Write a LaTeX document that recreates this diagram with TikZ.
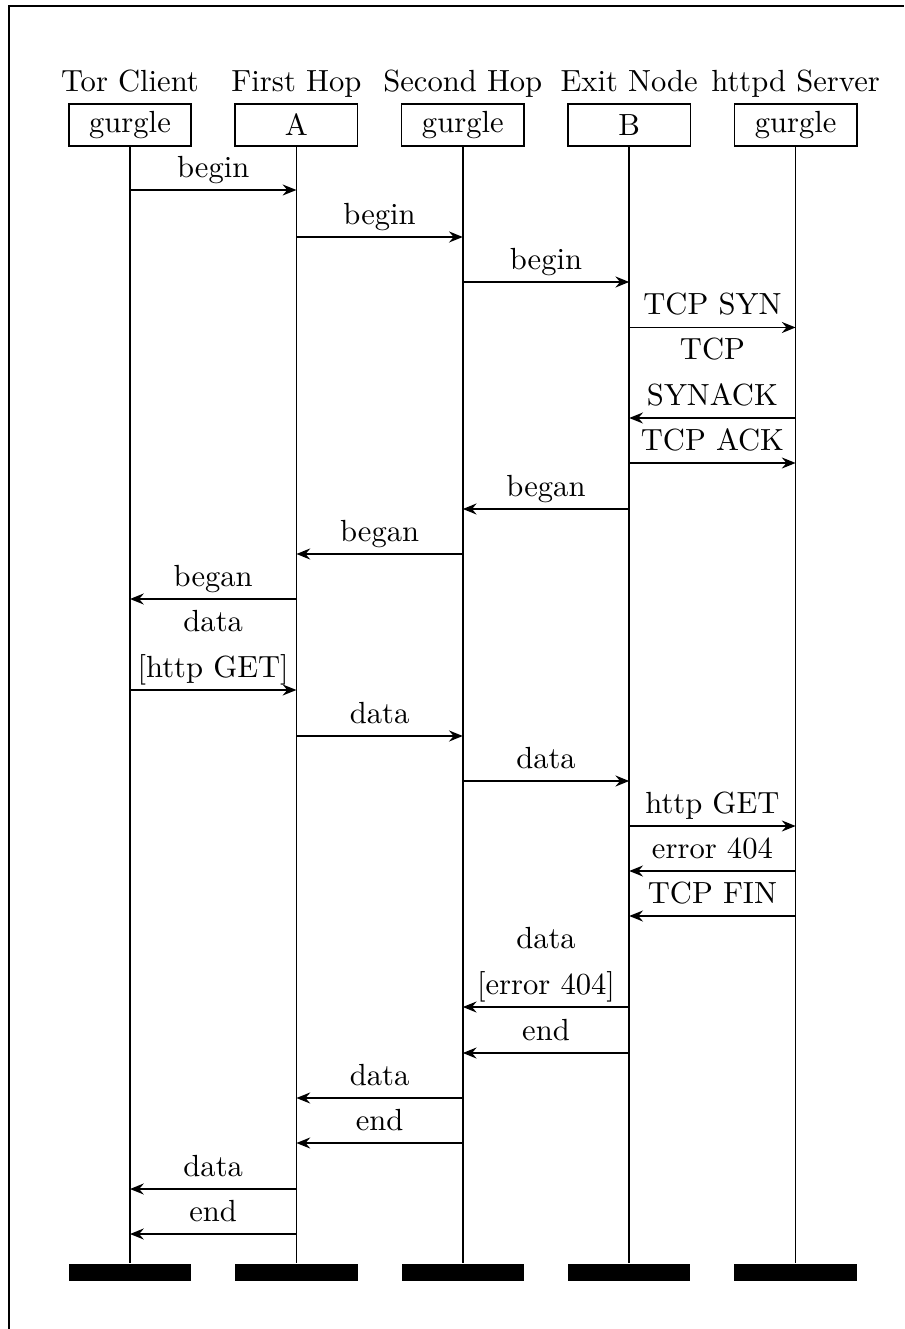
\documentclass[tikz,border=0pt]{standalone}
\usepackage{tikz}
\usetikzlibrary{arrows.meta}

\tikzset{
  inst/.style={draw, minimum width=40pt, minimum height=13.7pt, inner sep=2pt},
  instend/.style={fill=black, minimum width=40pt, minimum height=5.5pt, inner sep=0pt},
  role/.style={anchor=base, inner sep=0pt},
  msg/.style={-{Stealth[length=4.5pt,width=3.6pt,inset=1.5pt]}},
  msglabel/.style={midway, anchor=south, align=center, text depth=0pt, inner ysep=3.9pt}
}

\begin{document}
\begin{tikzpicture}[x=0.327pt,y=-0.327pt,line width=0.55pt]
\useasboundingbox (0,0) rectangle (904,1329);

%Frame
\draw (9,1329) -- (9,6) -- (904,6);

% Text Node
\node [role] at (130,92) {Tor Client};
\node [role] at (296.4,92) {First Hop};
\node [role] at (462.8,92) {Second Hop};
\node [role] at (629.2,92) {Exit Node};
\node [role] at (795.6,92) {httpd Server};

%Instances
\node [inst] (client) at (130,125) {gurgle};
\node [inst] (hopa) at (296.4,125) {A};
\node [inst] (hopb) at (462.8,125) {gurgle};
\node [inst] (exit) at (629.2,125) {B};
\node [inst] (httpd) at (795.6,125) {gurgle};

%Instance ends
\node [instend] (clientend) at (130,1272.5) {};
\node [instend] (hopaend) at (296.4,1272.5) {};
\node [instend] (hopbend) at (462.8,1272.5) {};
\node [instend] (exitend) at (629.2,1272.5) {};
\node [instend] (httpdend) at (795.6,1272.5) {};

%Lifelines
\draw (client) -- (clientend);
\draw (hopa) -- (hopaend);
\draw (hopb) -- (hopbend);
\draw (exit) -- (exitend);
\draw (httpd) -- (httpdend);

%Messages
\draw [msg] (client |- 0,190) -- (hopa |- 0,190) node [msglabel] {begin};
\draw [msg] (hopa |- 0,237) -- (hopb |- 0,237) node [msglabel] {begin};
\draw [msg] (hopb |- 0,282) -- (exit |- 0,282) node [msglabel] {begin};
\draw [msg] (exit |- 0,327.5) -- (httpd |- 0,327.5) node [msglabel] {TCP SYN};
\draw [msg] (httpd |- 0,418) -- (exit |- 0,418) node [msglabel] {TCP\\[3pt]SYNACK};
\draw [msg] (exit |- 0,463) -- (httpd |- 0,463) node [msglabel] {TCP ACK};
\draw [msg] (exit |- 0,509) -- (hopb |- 0,509) node [msglabel] {began};
\draw [msg] (hopb |- 0,554) -- (hopa |- 0,554) node [msglabel] {began};
\draw [msg] (hopa |- 0,599) -- (client |- 0,599) node [msglabel] {began};
\draw [msg] (client |- 0,690) -- (hopa |- 0,690) node [msglabel] {data\\[3pt]{[http GET]}};
\draw [msg] (hopa |- 0,736) -- (hopb |- 0,736) node [msglabel] {data};
\draw [msg] (hopb |- 0,781) -- (exit |- 0,781) node [msglabel] {data};
\draw [msg] (exit |- 0,826) -- (httpd |- 0,826) node [msglabel] {http GET};
\draw [msg] (httpd |- 0,871) -- (exit |- 0,871) node [msglabel] {error 404};
\draw [msg] (httpd |- 0,916) -- (exit |- 0,916) node [msglabel] {TCP FIN};
\draw [msg] (exit |- 0,1007) -- (hopb |- 0,1007) node [msglabel] {data\\[3pt]{[error 404]}};
\draw [msg] (exit |- 0,1053) -- (hopb |- 0,1053) node [msglabel] {end};
\draw [msg] (hopb |- 0,1098) -- (hopa |- 0,1098) node [msglabel] {data};
\draw [msg] (hopb |- 0,1143) -- (hopa |- 0,1143) node [msglabel] {end};
\draw [msg] (hopa |- 0,1189) -- (client |- 0,1189) node [msglabel] {data};
\draw [msg] (hopa |- 0,1234) -- (client |- 0,1234) node [msglabel] {end};

\end{tikzpicture}
\end{document}
